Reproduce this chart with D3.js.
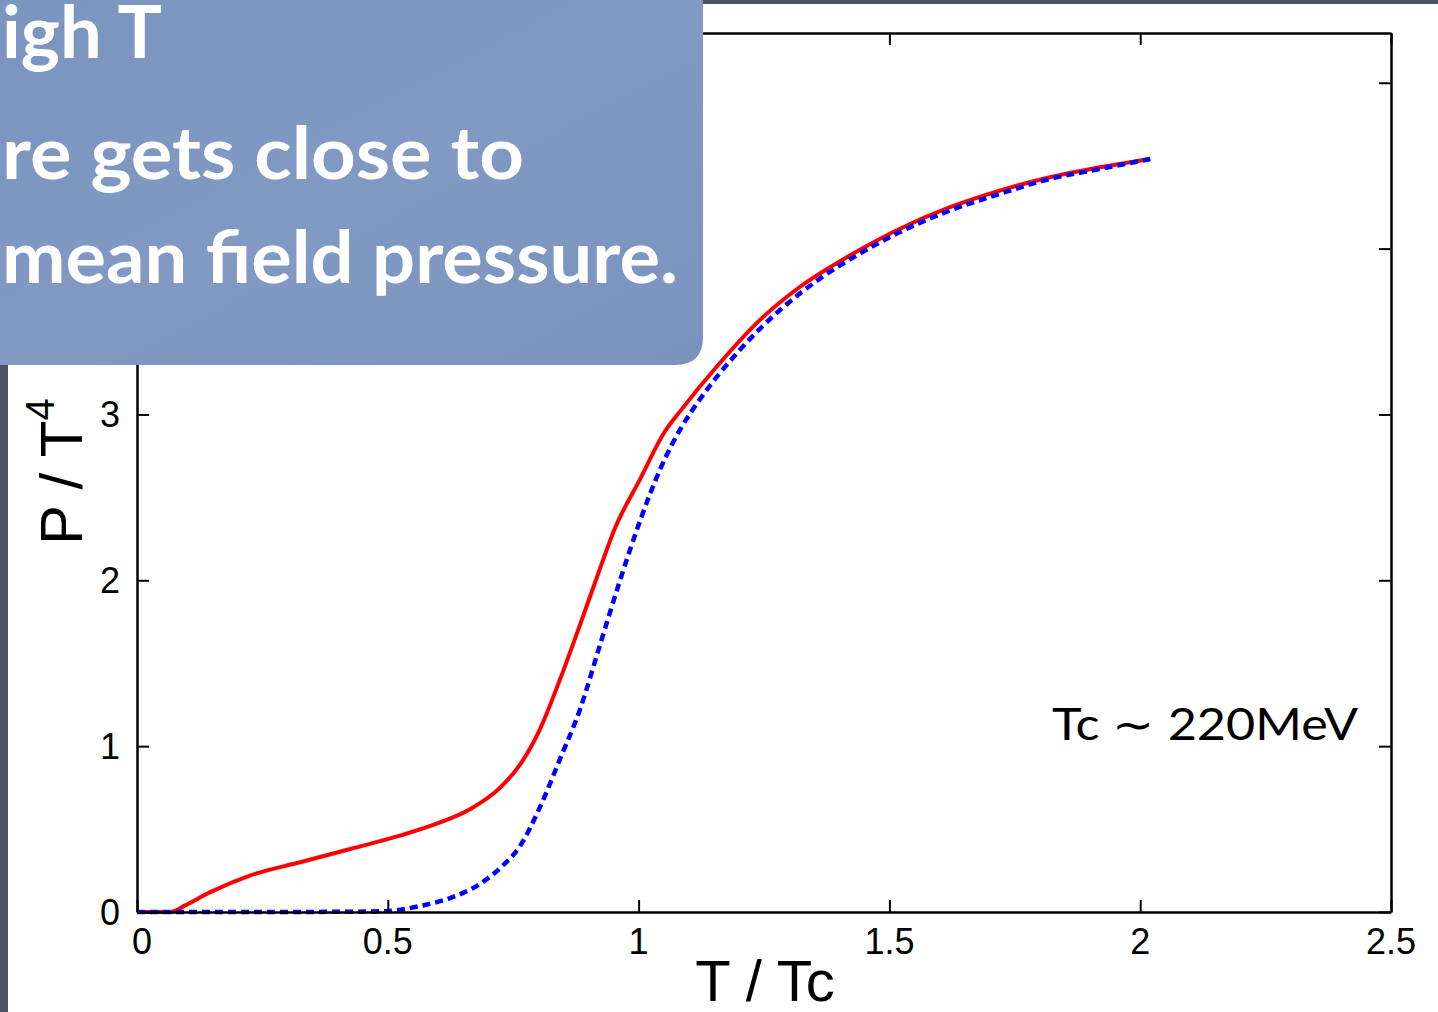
<!DOCTYPE html>
<html lang="en">
<head>
    <meta charset="UTF-8">
    <title>P / T^4 vs T / Tc</title>
    <script src="https://d3js.org/d3.v7.min.js"></script>
    <style>
        body { margin: 0; background: #4b5363; overflow: hidden; }
        svg { display: block; }
        .tick-label { font-family: "Liberation Sans", Arial, sans-serif; font-size: 36px; fill: #000; }
        .axis-title { font-family: "Liberation Sans", Arial, sans-serif; fill: #000; }
        .note { font-family: "Lato", "Noto Sans", sans-serif; font-weight: bold; fill: #fff; }
    </style>
</head>
<body>
    <svg width="1438" height="1012"></svg>
    <script>
        // T / Tc and P / T^4
        const redT = [0, 0.066, 0.096, 0.146, 0.225, 0.325, 0.425, 0.524, 0.604, 0.664, 0.724, 0.764, 0.803,
                      0.843, 0.883, 0.923, 0.951, 1.003, 1.053, 1.083, 1.162, 1.242, 1.322, 1.422, 1.521,
                      1.621, 1.720, 1.820, 1.920, 2.020];
        const redP = [0, 0, 0.04, 0.12, 0.22, 0.30, 0.38, 0.46, 0.54, 0.62, 0.75, 0.89, 1.10,
                      1.40, 1.73, 2.07, 2.30, 2.61, 2.90, 3.02, 3.31, 3.57, 3.77, 3.96, 4.12,
                      4.25, 4.35, 4.43, 4.49, 4.54];
        const blueT = [0, 0.2, 0.4, 0.5, 0.564, 0.624, 0.684, 0.724, 0.764, 0.803, 0.843, 0.883, 0.923, 0.963,
                       1.003, 1.043, 1.083, 1.122, 1.202, 1.282, 1.362, 1.441, 1.521, 1.621, 1.720,
                       1.820, 1.920, 2.020];
        const blueP = [0, 0, 0.001, 0.006, 0.036, 0.084, 0.17, 0.265, 0.40, 0.63, 0.92, 1.22, 1.61, 2.00,
                       2.36, 2.67, 2.91, 3.09, 3.39, 3.63, 3.82, 3.97, 4.10, 4.23, 4.33,
                       4.42, 4.48, 4.54];
        const xTicks = [0, 0.5, 1, 1.5, 2, 2.5];
        const yTicks = [0, 1, 2, 3, 4, 5];
        const yLabels = [0, 1, 2, 3];   // 4 and 5 sit under the slide text box
        const noteLines = ["igh T", "re gets close to", "mean field pressure."];

        const svg = d3.select("svg");

        // slide: white figure area over the dark background
        svg.append("rect").attr("x", 8).attr("y", 4).attr("width", 1430).attr("height", 1008).attr("fill", "#fff");

        const x = d3.scaleLinear().domain([0, 2.5]).range([137, 1391]);
        const y = d3.scaleLinear().domain([0, 5.3]).range([912, 33]);

        // curves
        const line = d3.line().x(d => x(d[0])).y(d => y(d[1])).curve(d3.curveMonotoneX);
        svg.append("path")
            .datum(redT.map((t, i) => [t, redP[i]]))
            .attr("d", line)
            .attr("fill", "none").attr("stroke", "#ff0000").attr("stroke-width", 4);
        svg.append("path")
            .datum(blueT.map((t, i) => [t, blueP[i]]))
            .attr("d", line)
            .attr("fill", "none").attr("stroke", "#0000ff").attr("stroke-width", 4.5)
            .attr("stroke-dasharray", "8,5");

        // frame with inward ticks
        const tickLen = 12;
        svg.append("g").attr("transform", `translate(0,${y(0)})`)
            .call(d3.axisBottom(x).tickValues(xTicks).tickSizeInner(-tickLen).tickSizeOuter(0).tickFormat(""));
        svg.append("g").attr("transform", `translate(0,${y(5.3)})`)
            .call(d3.axisTop(x).tickValues(xTicks).tickSizeInner(-tickLen).tickSizeOuter(0).tickFormat(""));
        svg.append("g").attr("transform", `translate(${x(0)},0)`)
            .call(d3.axisLeft(y).tickValues(yTicks).tickSizeInner(-tickLen).tickSizeOuter(0).tickFormat(""));
        svg.append("g").attr("transform", `translate(${x(2.5)},0)`)
            .call(d3.axisRight(y).tickValues(yTicks).tickSizeInner(-tickLen).tickSizeOuter(0).tickFormat(""));
        svg.selectAll(".domain").attr("stroke", "#000").attr("stroke-width", 2.5);
        svg.selectAll(".tick line").attr("stroke", "#000").attr("stroke-width", 2);

        // tick labels
        svg.selectAll(".xlab").data(xTicks).enter().append("text")
            .attr("class", "tick-label")
            .attr("x", d => x(d) + (d === 0 ? 5 : 0)).attr("y", 954)
            .attr("text-anchor", "middle")
            .text(d => d);
        svg.selectAll(".ylab").data(yLabels).enter().append("text")
            .attr("class", "tick-label")
            .attr("x", 120).attr("y", d => y(d) + 13)
            .attr("text-anchor", "end")
            .text(d => d);

        // axis titles
        svg.append("text").attr("class", "axis-title")
            .attr("x", 765).attr("y", 1001).attr("text-anchor", "middle")
            .attr("font-size", 58).text("T / Tc");
        const yt = svg.append("text").attr("class", "axis-title")
            .attr("transform", "translate(82,545) rotate(-90)")
            .attr("font-size", 60);
        yt.append("tspan").text("P / T");
        yt.append("tspan").attr("font-size", 40).attr("dy", -28).text("4");

        // annotation
        svg.append("text")
            .attr("x", 1052).attr("y", 740)
            .attr("font-family", "Lato, 'Noto Sans', sans-serif")
            .attr("font-size", 44).attr("fill", "#000")
            .attr("textLength", 306).attr("lengthAdjust", "spacingAndGlyphs")
            .text("Tc \u223C 220MeV");

        // overlaid slide text box
        const defs = svg.append("defs");
        const grad = defs.append("linearGradient").attr("id", "boxfill")
            .attr("x1", 0).attr("y1", 0).attr("x2", 1).attr("y2", 1);
        grad.append("stop").attr("offset", "0%").attr("stop-color", "#7b95c0");
        grad.append("stop").attr("offset", "50%").attr("stop-color", "#8199c3");
        grad.append("stop").attr("offset", "100%").attr("stop-color", "#7a94bf");
        svg.append("path")
            .attr("d", "M0,0 H703 V337 Q703,365 675,365 H0 Z")
            .attr("fill", "url(#boxfill)");

        const noteY = [58, 179, 283];
        const noteW = [160, 522, 676];
        svg.selectAll(".note").data(noteLines).enter().append("text")
            .attr("class", "note")
            .attr("x", 2).attr("y", (d, i) => noteY[i])
            .attr("font-size", 72)
            .attr("textLength", (d, i) => noteW[i]).attr("lengthAdjust", "spacingAndGlyphs")
            .text(d => d);
    </script>
</body>
</html>
